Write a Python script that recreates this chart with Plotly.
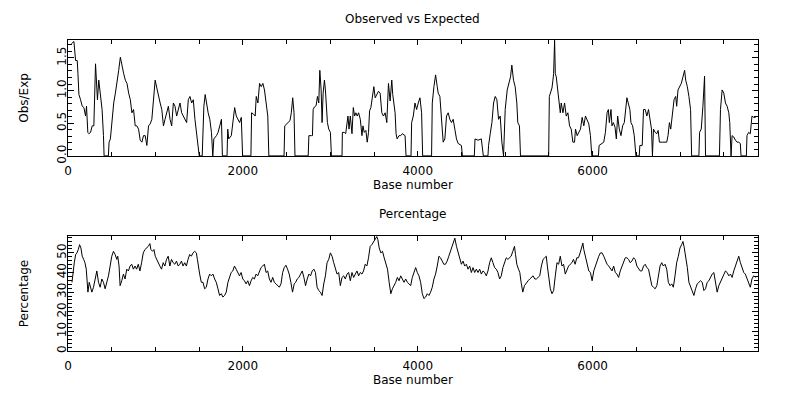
import plotly.graph_objects as go

# ---- Data ----
obs_base = [40, 68, 87, 106, 114, 125, 144, 163, 182, 201, 212, 227, 239, 258, 277, 296, 315, 326, 337, 352, 371, 390, 406, 413, 462, 470, 485, 504, 523, 542, 561, 580, 599, 618, 637, 656, 675, 694, 713, 731, 750, 769, 788, 807, 826, 845, 864, 883, 902, 921, 940, 959, 978, 997, 1016, 1035, 1054, 1073, 1092, 1110, 1129, 1148, 1167, 1186, 1205, 1224, 1243, 1262, 1281, 1300, 1319, 1338, 1357, 1376, 1395, 1414, 1433, 1452, 1471, 1489, 1501, 1535, 1543, 1554, 1569, 1584, 1603, 1622, 1641, 1656, 1668, 1698, 1717, 1736, 1755, 1766, 1819, 1827, 1838, 1868, 1887, 1906, 1925, 1944, 1963, 1982, 1997, 2092, 2100, 2122, 2141, 2153, 2172, 2191, 2210, 2229, 2247, 2266, 2285, 2297, 2471, 2479, 2513, 2539, 2554, 2570, 2585, 2596,
            2747, 2755, 2785, 2796, 2804, 2819, 2838, 2853, 2868, 2880, 2895, 2906, 2918, 2933, 2944, 2956, 2967, 2982, 3001, 3013, 3134, 3138, 3160, 3176, 3187, 3202, 3214, 3229, 3248, 3263, 3278, 3293, 3308, 3324, 3343, 3362, 3373, 3388, 3407, 3422, 3437, 3449, 3464, 3483, 3498, 3513, 3532, 3551, 3570, 3589, 3608, 3627, 3646, 3665, 3684, 3703, 3714, 3729, 3741, 3752, 3764, 3786, 3805, 3824, 3855, 3866, 3923, 3930, 3949, 3968, 3987, 4006, 4025, 4044, 4056, 4158, 4166, 4185, 4204, 4223, 4234, 4253, 4272, 4291, 4310, 4329, 4348, 4367, 4386, 4405, 4424, 4443, 4462, 4499, 4511, 4647, 4655, 4689, 4727, 4750, 4803, 4810, 4829, 4848, 4867, 4886, 4905, 4924, 4943, 4962, 4981, 5000, 5023, 5042, 5061, 5076, 5095, 5114, 5133, 5144, 5163, 5175,
            5497, 5505, 5520, 5535, 5546, 5554, 5565, 5573, 5584, 5596, 5603, 5615, 5630, 5641, 5660, 5679, 5698, 5717, 5736, 5755, 5774, 5793, 5804, 5823, 5842, 5861, 5880, 5899, 5918, 5937, 5956, 5975, 5990, 6066, 6074, 6127, 6146, 6165, 6180, 6191, 6210, 6221, 6237, 6256, 6271, 6286, 6305, 6324, 6343, 6362, 6381, 6392, 6407, 6426, 6438, 6457, 6476, 6495, 6533, 6540, 6567, 6582, 6601, 6620, 6639, 6654, 6673, 6684, 6696, 6715, 6734, 6749, 6764, 6798, 6847, 6862, 6878, 6893, 6912, 6931, 6950, 6961, 6976, 6995, 7014, 7033, 7052, 7064, 7083, 7101, 7120, 7132, 7215, 7223, 7242, 7261, 7280, 7291, 7450, 7462, 7481, 7500, 7519, 7538, 7557, 7568, 7583, 7595, 7614, 7633, 7651, 7670, 7689, 7697, 7758, 7765, 7784, 7803, 7822, 7841, 7864]
obs_exp = [1.72, 1.75, 1.46, 1.46, 1.26, 0.94, 0.86, 0.76, 0.74, 0.61, 0.76, 0.36, 0.34, 0.36, 0.46, 0.46, 1.41, 1.01, 0.86, 1.16, 0.91, 0.71, 0.31, 0, 0, 0.21, 0.26, 0.56, 0.81, 0.96, 1.11, 1.31, 1.51, 1.36, 1.26, 1.16, 1.11, 0.96, 0.86, 0.66, 0.71, 0.46, 0.46, 0.41, 0.24, 0.21, 0.31, 0.31, 0.16, 0.46, 0.49, 0.56, 0.91, 1.16, 1.04, 0.91, 0.81, 0.71, 0.46, 0.56, 0.66, 0.76, 0.56, 0.46, 0.81, 0.76, 0.61, 0.71, 0.81, 0.66, 0.61, 0.56, 0.51, 0.86, 0.91, 0.81, 0.86, 0.56, 0.36, 0.16, 0, 0, 0.56, 0.76, 0.94, 0.81, 0.66, 0.56, 0.36, 0, 0.26, 0.31, 0.36, 0.46, 0.56, 0, 0, 0.41, 0.26, 0.31, 0.51, 0.74, 0.61, 0.56, 0.51, 0.59, 0, 0, 0.66, 0.64, 0.61, 0.91, 0.81, 1.11, 1.06, 1.11, 1.01, 0.81, 0.61, 0, 0, 0.46, 0.50, 0.54, 0.66, 0.89, 0.66, 0,
           0, 0.31, 0.31, 0.31, 0.71, 0.75, 0.77, 0.91, 0.81, 1.31, 1.01, 0.51, 0.96, 1.16, 1.01, 0.71, 0.51, 0.41, 0.36, 0, 0, 0.36, 0.36, 0.34, 0.46, 0.61, 0.41, 0.61, 0.34, 0.74, 0.61, 0.66, 0.61, 0.66, 0.56, 0.31, 0.46, 0.36, 0.39, 0.21, 0.36, 0.69, 0.74, 0.96, 1.06, 0.89, 0.94, 0.99, 0.96, 0.66, 0.61, 0.66, 0.51, 1.11, 0.84, 1.16, 0.94, 0.74, 0.66, 0.34, 0.26, 0.31, 0.31, 0.34, 0.31, 0, 0, 0.51, 0.61, 0.81, 0.71, 0.81, 0.89, 0.66, 0, 0, 0.81, 1.06, 1.24, 1.06, 0.96, 0.91, 0.51, 0.21, 0.26, 0.61, 0.66, 0.56, 0.51, 0.56, 0.41, 0.26, 0.19, 0.16, 0, 0, 0.26, 0.24, 0.26, 0, 0, 0.16, 0.34, 0.51, 0.81, 0.91, 0.86, 0.56, 0.61, 0.21, 0, 0.71, 1.01, 1.11, 1.21, 1.39, 1.16, 1.06, 0.81, 0.51, 0.46, 0,
           0, 0.91, 0.96, 1.04, 1.16, 1.26, 1.77, 1.26, 1.21, 1.06, 0.96, 0.81, 0.66, 0.81, 0.66, 0.81, 0.61, 0.66, 0.46, 0.41, 0.21, 0.21, 0.41, 0.31, 0.36, 0.41, 0.59, 0.46, 0.61, 0.56, 0.49, 0.31, 0, 0, 0.16, 0.21, 0.36, 0.66, 0.71, 0.51, 0.71, 0.46, 0.51, 0.44, 0.26, 0.61, 0.41, 0.31, 0.46, 0.51, 0.81, 0.89, 0.81, 0.71, 0.51, 0.46, 0.31, 0, 0, 0.16, 0.16, 0.71, 0.71, 0.61, 0.71, 0.56, 0.41, 0, 0.41, 0.36, 0.34, 0.39, 0.21, 0.21, 0.21, 0.31, 0.51, 0.41, 0.61, 0.86, 0.91, 0.76, 1.01, 1.06, 1.11, 1.21, 1.31, 1.16, 1.06, 0.91, 0.71, 0, 0, 0.36, 0.41, 0.76, 1.22, 0, 0, 0.71, 1.01, 0.96, 0.81, 0.76, 0.66, 0.51, 0, 0.31, 0.29, 0.24, 0.21, 0.21, 0.19, 0, 0, 0.31, 0.36, 0.34, 0.61, 0.59, 0.59]

pct_base = [46, 57, 72, 88, 103, 118, 133, 148, 163, 179, 194, 209, 217, 228, 243, 254, 273, 292, 311, 330, 349, 368, 387, 406, 425, 444, 463, 482, 501, 520, 539, 558, 569, 584, 596, 615, 634, 653, 672, 691, 710, 729, 748, 767, 785, 804, 823, 842, 861, 880, 899, 918, 937, 948, 967, 983, 998, 1013, 1032, 1051, 1070, 1089, 1108, 1127, 1146, 1165, 1184, 1203, 1222, 1241, 1260, 1279, 1298, 1316, 1335, 1354, 1373, 1392, 1411, 1430, 1449, 1468, 1480, 1495, 1506, 1525, 1544, 1563, 1582, 1601, 1620, 1639, 1658, 1677, 1696, 1715, 1734, 1753, 1772, 1791, 1810, 1829, 1848, 1866, 1885, 1904, 1923, 1942, 1961, 1980, 1999, 2018, 2037, 2056, 2075, 2094, 2113, 2132, 2151, 2170, 2189, 2208, 2227, 2246, 2265, 2284, 2303, 2322, 2341, 2360, 2379, 2398, 2417, 2436, 2455, 2473, 2492, 2511, 2530, 2549, 2568, 2587,
            2603, 2622, 2641, 2660, 2679, 2698, 2717, 2736, 2755, 2774, 2793, 2812, 2830, 2849, 2868, 2887, 2906, 2925, 2944, 2963, 2982, 3001, 3020, 3039, 3058, 3077, 3096, 3115, 3134, 3153, 3172, 3191, 3210, 3229, 3248, 3267, 3286, 3305, 3324, 3343, 3362, 3380, 3399, 3418, 3437, 3456, 3475, 3494, 3513, 3532, 3544, 3559, 3578, 3597, 3616, 3635, 3654, 3673, 3692, 3710, 3729, 3748, 3767, 3786, 3805, 3824, 3843, 3862, 3881, 3900, 3919, 3938, 3957, 3976, 3995, 4014, 4033, 4052, 4071, 4090, 4109, 4128, 4147, 4166, 4185, 4204, 4223, 4242, 4260, 4279, 4298, 4317, 4336, 4355, 4374, 4393, 4412, 4424, 4443, 4462, 4481, 4499, 4518, 4537, 4556, 4575, 4594, 4613, 4632, 4651, 4670, 4689, 4708, 4727, 4746, 4765, 4784, 4803, 4822, 4841, 4860, 4879, 4898, 4917, 4936, 4955, 4974, 4993, 5012, 5031, 5049, 5068, 5087, 5106, 5118, 5133, 5152, 5167, 5182, 5201, 5220,
            5243, 5262, 5281, 5300, 5319, 5338, 5357, 5376, 5395, 5414, 5433, 5452, 5470, 5482, 5497, 5516, 5535, 5554, 5573, 5592, 5611, 5630, 5649, 5668, 5687, 5706, 5725, 5744, 5763, 5781, 5800, 5819, 5838, 5857, 5876, 5888, 5899, 5918, 5937, 5956, 5975, 5994, 6013, 6032, 6051, 6070, 6089, 6108, 6127, 6146, 6165, 6184, 6203, 6222, 6240, 6259, 6278, 6297, 6316, 6335, 6354, 6373, 6392, 6411, 6430, 6449, 6468, 6487, 6506, 6525, 6544, 6563, 6582, 6601, 6620, 6639, 6658, 6677, 6696, 6715, 6734, 6753, 6771, 6790, 6809, 6828, 6847, 6866, 6885, 6904, 6923, 6942, 6961, 6980, 6999, 7018, 7033, 7045, 7064, 7083, 7101, 7120, 7139, 7158, 7177, 7196, 7215, 7234, 7253, 7272, 7291, 7310, 7329, 7348, 7367, 7386, 7405, 7424, 7443, 7462, 7481, 7500, 7519, 7538, 7557, 7576, 7595, 7614, 7633, 7652, 7671, 7690, 7709, 7728, 7746, 7765, 7784, 7803, 7822, 7841, 7864]
pct_val = [35.0, 40.0, 45.0, 49.2, 50.0, 51.7, 54.2, 52.5, 48.3, 46.7, 45.0, 41.7, 33.3, 30.0, 35.0, 33.3, 30.0, 32.5, 36.7, 40.8, 35.0, 32.5, 36.7, 35.0, 31.7, 35.0, 38.3, 43.3, 48.3, 50.8, 49.2, 46.7, 48.3, 43.3, 33.3, 35.8, 39.2, 36.7, 41.7, 40.8, 43.3, 44.2, 41.7, 43.3, 41.7, 44.2, 40.8, 45.0, 50.0, 51.7, 52.5, 53.3, 54.7, 51.7, 50.8, 51.7, 48.3, 46.7, 45.0, 43.3, 41.7, 45.0, 43.3, 46.7, 48.3, 43.3, 46.7, 45.0, 44.2, 45.8, 43.3, 44.2, 45.8, 43.3, 45.0, 43.3, 46.7, 49.2, 48.3, 50.0, 50.8, 50.0, 46.7, 41.7, 39.2, 35.0, 35.0, 31.7, 32.5, 36.7, 39.2, 38.3, 39.2, 36.7, 35.0, 31.7, 28.3, 29.2, 27.5, 28.3, 30.0, 35.0, 38.3, 40.0, 40.8, 43.3, 41.7, 40.0, 38.3, 40.0, 36.7, 35.8, 34.2, 35.8, 33.3, 35.8, 37.5, 36.7, 39.2, 38.3, 40.8, 42.5, 43.3, 44.2, 40.0, 40.8, 36.7, 35.0, 37.5, 35.0, 34.2, 33.3, 32.5, 34.2, 40.0, 42.5, 43.7, 41.7, 39.2, 35.0, 30.0, 34.2,
           35.0, 36.7, 37.5, 39.2, 40.8, 37.5, 33.3, 36.7, 39.2, 38.3, 40.8, 41.7, 40.0, 32.5, 30.8, 30.0, 28.3, 34.2, 38.3, 45.0, 46.7, 50.0, 48.3, 45.0, 41.7, 39.2, 40.0, 33.3, 37.5, 38.3, 36.7, 39.2, 40.0, 35.8, 40.0, 37.5, 39.2, 40.8, 38.3, 40.0, 39.2, 40.8, 44.2, 43.3, 47.5, 53.3, 54.2, 55.8, 56.7, 58.3, 56.7, 52.5, 50.0, 50.8, 47.5, 44.2, 41.7, 35.0, 29.2, 31.7, 33.3, 35.0, 37.5, 35.8, 38.3, 36.7, 35.0, 36.7, 35.0, 34.2, 33.3, 37.5, 40.0, 42.5, 40.0, 38.3, 35.0, 29.2, 26.7, 27.5, 29.2, 28.3, 30.0, 32.5, 36.7, 39.2, 43.3, 48.3, 47.5, 45.8, 44.2, 44.2, 45.8, 48.3, 50.8, 53.3, 55.8, 57.5, 53.3, 50.0, 46.7, 44.2, 45.8, 43.3, 44.2, 41.7, 43.3, 40.0, 42.5, 40.0, 41.7, 40.0, 41.7, 39.2, 40.8, 40.0, 38.3, 40.8, 45.0, 47.5, 45.0, 42.5, 41.7, 40.0, 36.7, 38.3, 42.5, 45.0, 47.5, 46.7, 47.5, 48.3, 50.8, 53.3, 49.2, 44.2, 41.7, 40.0, 35.0, 30.0, 33.3,
           35.0, 35.8, 36.7, 37.5, 38.3, 36.7, 36.7, 37.5, 38.3, 43.3, 46.7, 47.5, 48.3, 43.3, 36.7, 31.7, 29.2, 30.8, 38.3, 45.0, 44.2, 48.3, 43.3, 44.2, 39.2, 41.7, 43.3, 44.2, 45.0, 46.7, 44.2, 47.5, 47.5, 50.0, 52.5, 55.0, 51.7, 47.5, 43.3, 40.8, 40.0, 35.8, 40.8, 43.3, 46.7, 48.3, 50.0, 50.0, 48.3, 45.8, 44.2, 43.3, 41.7, 40.8, 43.3, 40.0, 39.2, 37.5, 40.8, 43.3, 45.8, 47.5, 47.5, 46.7, 45.0, 45.8, 47.5, 46.7, 43.3, 41.7, 40.8, 40.8, 43.3, 44.2, 42.5, 41.7, 36.7, 33.3, 32.5, 31.7, 33.3, 38.3, 43.3, 45.0, 43.3, 44.2, 41.7, 35.0, 33.3, 34.2, 32.5, 38.3, 45.0, 48.3, 52.5, 54.2, 55.8, 53.3, 48.3, 42.5, 35.0, 32.5, 30.0, 28.3, 31.7, 34.2, 35.0, 35.8, 35.0, 30.8, 31.7, 35.0, 35.8, 37.5, 39.2, 40.0, 35.0, 30.0, 33.3, 35.0, 36.7, 38.3, 40.8, 40.0, 38.3, 39.2, 37.5, 40.8, 43.3, 45.0, 48.3, 45.0, 42.5, 40.0, 39.2, 36.7, 35.0, 32.5, 36.7, 38.3, 37.5]

top_title = "Observed vs Expected"
bottom_title = "Percentage"
x_label = "Base number"
top_ylabel = "Obs/Exp"
bottom_ylabel = "Percentage"

# ---- Figure ----
FONT = dict(family="DejaVu Sans", size=12, color="black")
W, H = 799, 410
x0, x1 = 64.3 / W, 757.7 / W
top_dom = [(H - 159) / H, (H - 40.7) / H]
bot_dom = [(H - 358) / H, (H - 240.7) / H]

fig = go.Figure()
fig.add_trace(go.Scatter(x=obs_base, y=obs_exp, mode="lines",
                         line=dict(color="black", width=1), xaxis="x", yaxis="y",
                         showlegend=False, hoverinfo="skip"))
fig.add_trace(go.Scatter(x=pct_base, y=pct_val, mode="lines",
                         line=dict(color="black", width=1), xaxis="x2", yaxis="y2",
                         showlegend=False, hoverinfo="skip"))

def xax(anchor):
    return dict(domain=[x0, x1], anchor=anchor, range=[0, 7890], tick0=0, dtick=2000,
                ticks="inside", ticklen=5, tickcolor="black", tickwidth=1,
                minor=dict(dtick=500, ticks="inside", ticklen=4, tickcolor="black", tickwidth=1),
                showline=True, linecolor="black", linewidth=1, mirror="allticks",
                showgrid=False, zeroline=False, tickfont=FONT, ticklabelstandoff=4,
                title=dict(text=x_label, font=FONT, standoff=3))

def yax(anchor, dom, rng, dtick, mdtick, fmt, label):
    return dict(domain=dom, anchor=anchor, range=rng, tick0=0, dtick=dtick, tickformat=fmt,
                ticks="inside", ticklen=6, tickcolor="black", tickwidth=1, tickangle=-90,
                minor=dict(dtick=mdtick, ticks="inside", ticklen=4, tickcolor="black", tickwidth=1),
                showline=True, linecolor="black", linewidth=1, mirror="allticks",
                showgrid=False, zeroline=False, tickfont=FONT, ticklabelstandoff=-4,
                title=dict(text=label, font=FONT, standoff=23))

fig.update_layout(
    width=W, height=H, autosize=False,
    margin=dict(l=0, r=0, t=0, b=0),
    paper_bgcolor="white", plot_bgcolor="white",
    xaxis=xax("y"),
    yaxis=yax("x", top_dom, [0, 1.776], 0.5, 0.1, ".1f", top_ylabel),
    xaxis2=xax("y2"),
    yaxis2=yax("x2", bot_dom, [0, 58.6], 10, 2, "d", bottom_ylabel),
    annotations=[
        dict(text=top_title, x=(x0 + x1) / 2, y=(H - 19) / H, xref="paper", yref="paper",
             showarrow=False, font=FONT, xanchor="center", yanchor="middle"),
        dict(text=bottom_title, x=(x0 + x1) / 2, y=(H - 218) / H, xref="paper", yref="paper",
             showarrow=False, font=FONT, xanchor="center", yanchor="middle"),
    ],
)

fig.write_html("out.html")
